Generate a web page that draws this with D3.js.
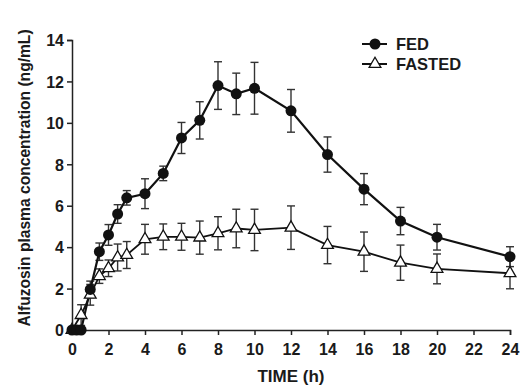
<!DOCTYPE html>
<html>
<head>
<meta charset="utf-8">
<script src="https://cdn.jsdelivr.net/npm/d3@7"></script>
<style>
  body { margin: 0; background: #fff; }
  svg text { font-family: "Liberation Sans", Arial, sans-serif; font-weight: bold; fill: #1a1a1a; }
</style>
</head>
<body>
<div class="chart"></div>
<script>
var svgWidth = 527;
var svgHeight = 385;

// sampling times (h) and mean +/- SE concentrations (ng/mL)
var fedTime = [0, 0.25, 0.5, 1, 1.5, 2, 2.5, 3, 4, 5, 6, 7, 8, 9, 10, 12, 14, 16, 18, 20, 24];
var fedMean = [0, 0, 0, 1.96, 3.78, 4.59, 5.6, 6.38, 6.58, 7.56, 9.27, 10.12, 11.8, 11.4, 11.67, 10.58, 8.47, 6.8, 5.26, 4.48, 3.54];
var fedSE = [0, 0, 0, 0.4, 0.42, 0.5, 0.45, 0.35, 0.72, 0.35, 0.75, 0.9, 1.15, 1.0, 1.25, 1.03, 0.85, 0.75, 0.66, 0.62, 0.48];

var fastedTime = [0, 0.5, 1, 1.5, 2, 2.5, 3, 4, 5, 6, 7, 8, 9, 10, 12, 14, 16, 18, 20, 24];
var fastedMean = [0, 0.72, 1.7, 2.6, 2.98, 3.5, 3.62, 4.38, 4.5, 4.5, 4.46, 4.67, 4.9, 4.83, 4.94, 4.1, 3.78, 3.25, 2.95, 2.74];
var fastedSE = [0, 0.5, 0.5, 0.35, 0.4, 0.65, 0.65, 0.72, 0.62, 0.65, 0.8, 0.8, 0.93, 1.0, 1.05, 0.9, 0.95, 0.85, 0.72, 0.75];

var xTicks = [0, 2, 4, 6, 8, 10, 12, 14, 16, 18, 20, 22, 24];
var yTicks = [0, 2, 4, 6, 8, 10, 12, 14];
var seriesNames = ["FED", "FASTED"];

var svg = d3.select(".chart")
  .append("svg")
  .attr("width", svgWidth)
  .attr("height", svgHeight);

var xScale = d3.scaleLinear().domain([0, 24]).range([72, 510]);
var yScale = d3.scaleLinear().domain([0, 14]).range([330, 40]);

// axes
var xAxis = svg.append("g")
  .attr("transform", "translate(0,330)")
  .call(d3.axisBottom(xScale).tickValues(xTicks).tickSize(5).tickPadding(9));

var yAxis = svg.append("g")
  .attr("transform", "translate(72,0)")
  .call(d3.axisLeft(yScale).tickValues(yTicks).tickSize(5).tickPadding(3));

[xAxis, yAxis].forEach(function(ax) {
  ax.select(".domain").attr("stroke", "#222").attr("stroke-width", 1.5);
  ax.selectAll(".tick line").attr("stroke", "#222").attr("stroke-width", 1.5);
  ax.selectAll("text").attr("font-size", 16).attr("fill", "#1a1a1a")
    .attr("font-family", "'Liberation Sans', Arial, sans-serif").attr("font-weight", "bold");
});
yAxis.selectAll("text").attr("dy", "0.36em");

// axis titles
svg.append("text")
  .attr("x", 291)
  .attr("y", 382)
  .attr("text-anchor", "middle")
  .attr("font-size", 17)
  .text("TIME (h)");

svg.append("text")
  .attr("transform", "translate(30,178) rotate(-90)")
  .attr("text-anchor", "middle")
  .attr("font-size", 15.6)
  .text("Alfuzosin plasma concentration (ng/mL)");

function toRows(t, m, se) {
  return t.map(function(d, i) { return {t: d, m: m[i], se: se[i]}; });
}
var fed = toRows(fedTime, fedMean, fedSE);
var fasted = toRows(fastedTime, fastedMean, fastedSE);

var line = d3.line().x(d => xScale(d.t)).y(d => yScale(d.m));

function drawErrors(rows) {
  var g = svg.append("g").attr("stroke", "#333").attr("stroke-width", 1.4);
  rows.filter(d => d.se > 0).forEach(function(d) {
    var x = xScale(d.t), y0 = yScale(d.m - d.se), y1 = yScale(d.m + d.se);
    g.append("line").attr("x1", x).attr("x2", x).attr("y1", y0).attr("y2", y1);
    g.append("line").attr("x1", x - 4).attr("x2", x + 4).attr("y1", y0).attr("y2", y0);
    g.append("line").attr("x1", x - 4).attr("x2", x + 4).attr("y1", y1).attr("y2", y1);
  });
}

drawErrors(fasted);
drawErrors(fed);

svg.append("path").datum(fasted)
  .attr("d", line).attr("fill", "none").attr("stroke", "#111").attr("stroke-width", 1.8);
svg.append("path").datum(fed)
  .attr("d", line).attr("fill", "none").attr("stroke", "#111").attr("stroke-width", 2.2);

var tri = d3.symbol().type(d3.symbolTriangle).size(60);

svg.append("g").selectAll("path")
  .data(fasted)
  .enter()
  .append("path")
  .attr("d", tri)
  .attr("transform", d => `translate(${xScale(d.t)},${yScale(d.m)})`)
  .attr("fill", "#fff")
  .attr("stroke", "#111")
  .attr("stroke-width", 1.3);

svg.append("g").selectAll("circle")
  .data(fed)
  .enter()
  .append("circle")
  .attr("cx", d => xScale(d.t))
  .attr("cy", d => yScale(d.m))
  .attr("r", 5.5)
  .attr("fill", "#111");

// legend
var legend = svg.append("g");
seriesNames.forEach(function(name, i) {
  var y = 44 + i * 20;
  legend.append("line").attr("x1", 362).attr("x2", 387).attr("y1", y).attr("y2", y)
    .attr("stroke", "#111").attr("stroke-width", 2);
  if (i === 0) {
    legend.append("circle").attr("cx", 375).attr("cy", y).attr("r", 5.5).attr("fill", "#111");
  } else {
    legend.append("path").attr("d", tri).attr("transform", `translate(375,${y})`)
      .attr("fill", "#fff").attr("stroke", "#111").attr("stroke-width", 1.3);
  }
  legend.append("text").attr("x", 396).attr("y", y + 6).attr("font-size", 16.5).text(name);
});
</script>
</body>
</html>
